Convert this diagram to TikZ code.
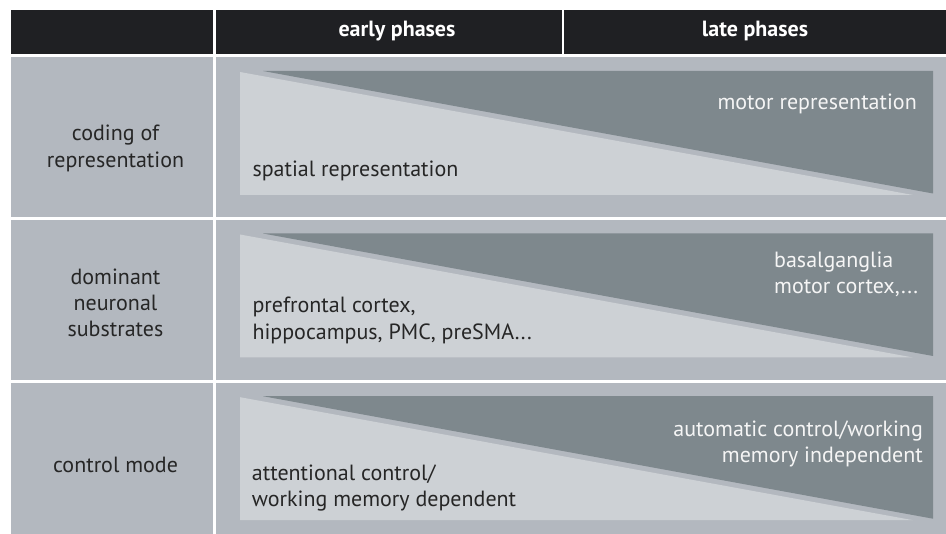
\documentclass[tikz,border=0pt]{standalone}
\usepackage{fontspec}
\setmainfont{PT Sans}
\definecolor{headbg}{RGB}{31,32,35}
\definecolor{cellbg}{RGB}{179,184,191}
\definecolor{lightwedge}{RGB}{205,209,213}
\definecolor{darkwedge}{RGB}{126,136,141}
\definecolor{bodytext}{RGB}{38,38,38}
\definecolor{wedgetext}{RGB}{245,245,245}
\begin{document}
\begin{tikzpicture}[x=1pt,y=-1pt,
  txt/.style={font=\fontsize{22}{26}\selectfont, text=bodytext, inner sep=0pt},
  wtxt/.style={txt, text=wedgetext},
  headtxt/.style={font=\fontsize{22}{26}\selectfont\bfseries, text=white, inner sep=0pt, anchor=base}]
\useasboundingbox (0,0) rectangle (946,534);
\fill[white] (0,0) rectangle (946,534);

% header bar
\fill[headbg] (10.7,10) rectangle (213.3,54.3);
\fill[headbg] (216,10) rectangle (561.7,54.3);
\fill[headbg] (564.3,10) rectangle (946,54.3);
\node[headtxt] (hearly) at (397,37) {early phases};
\node[headtxt] (hlate) at (755,37) {late phases};

% rows: label cell, body cell, light wedge (early) and dark wedge (late)
\foreach \t/\b in {57.5/217, 220/380, 382.7/534}{
  \fill[cellbg] (10.7,\t) rectangle (213.3,\b);
  \fill[cellbg] (216,\t) rectangle (946,\b);
  \fill[lightwedge] (240,\t+14.5) -- (240,\t+137.5) -- (913,\t+137.5) -- cycle;
  \fill[darkwedge] (263,\t+13.5) -- (933,\t+13.5) -- (933,\t+136) -- cycle;
}

% row labels
\node[txt, anchor=base] (l1a) at (115.5,141) {coding of};
\node[txt, anchor=base] (l1b) at (115.5,167.5) {representation};
\node[txt, anchor=base] (l2a) at (115.5,285) {dominant};
\node[txt, anchor=base] (l2b) at (115.5,311) {neuronal};
\node[txt, anchor=base] (l2c) at (115.5,337) {substrates};
\node[txt, anchor=base] (l3a) at (115.5,473) {control mode};

% row 1
\node[wtxt, anchor=base east] (r1late) at (917,110) {motor representation};
\node[txt, anchor=base west] (r1early) at (252.3,176.7) {spatial representation};

% row 2
\node[wtxt, anchor=base west] (r2latea) at (774,268) {basalganglia};
\node[wtxt, anchor=base west] (r2lateb) at (774,294) {motor cortex,...};
\node[txt, anchor=base west] (r2earlya) at (252.3,312.7) {prefrontal cortex,};
\node[txt, anchor=base west] (r2earlyb) at (252.3,339.3) {hippocampus, PMC, preSMA...};

% row 3
\node[wtxt, anchor=base east] (r3latea) at (923,436.5) {automatic control/working};
\node[wtxt, anchor=base east] (r3lateb) at (923,463) {memory independent};
\node[txt, anchor=base west] (r3earlya) at (251.7,480.7) {attentional control/};
\node[txt, anchor=base west] (r3earlyb) at (251.7,506.7) {working memory dependent};
\end{tikzpicture}
\end{document}
